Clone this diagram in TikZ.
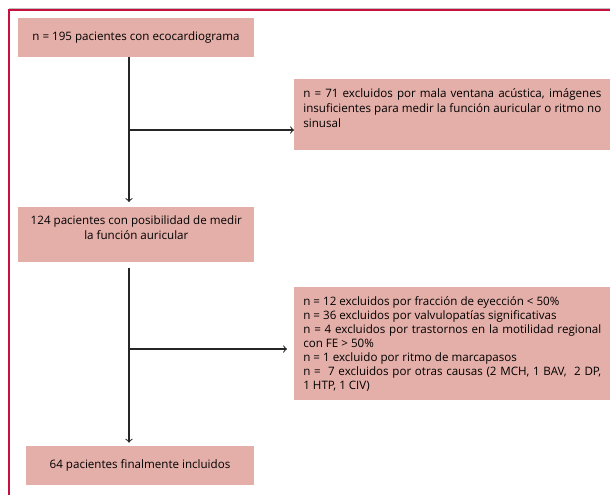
\documentclass[tikz,border=0pt]{standalone}
\usepackage{fontspec}
\setmainfont{Open Sans}
\definecolor{caja}{HTML}{E4AFA9}
\definecolor{marco}{HTML}{C8103E}
\hyphenpenalty=10000
\emergencystretch=1em

\begin{document}
\begin{tikzpicture}[x=0.02cm,y=-0.02cm,
	caja/.style={fill=caja,inner sep=0pt,font=\fontsize{6.6}{8}\selectfont},
	flecha/.style={->,line width=0.6pt,black!85}]
				\useasboundingbox(0,0)rectangle(610,495);
				\draw[black!25,line width=0.3pt](9,8.5)--(610,8.5);
				\draw[marco,line width=1.1pt](9,495)--(9,10)--(610,10);
				\node[caja,minimum width=4.72cm,minimum height=0.78cm](total)at(136,37.5){\raisebox{1.5pt}{n = 195 pacientes con ecocardiograma}};
				\node[caja,anchor=north west](excl1)at(294,79){\parbox[c][1.42cm][t]{6.32cm}{\hspace*{0.18cm}\parbox[t]{5.96cm}{\fontsize{6.6}{8.6}\selectfont\vspace*{5pt}n = 71 excluidos por mala ventana acústica, imágenes insuficientes para medir la función auricular o ritmo no sinusal}}};
				\node[caja,anchor=north west](posibles)at(18,207){\parbox[c][1.1cm][t]{4.72cm}{\centering\vspace*{5pt}124 pacientes con posibilidad de medir\\la función auricular}};
				\node[caja,anchor=north west](excl2)at(294,287){\parbox[c][2.26cm][t]{6.32cm}{\hspace*{0.18cm}\parbox[t]{5.96cm}{\vspace*{5pt}n = 12 excluidos por fracción de eyección < 50\%\\
n = 36 excluidos por valvulopatías significativas\\
n = 4 excluidos por trastornos en la motilidad regional con FE > 50\%\\
n = 1 excluido por ritmo de marcapasos\\
n =\ \ 7 excluidos por otras causas (2 MCH, 1 BAV,\ \ 2 DP, 1~HTP, 1~CIV)}}};
				\node[caja,minimum width=4.56cm,minimum height=0.78cm](incluidos)at(140,465.5){64 pacientes finalmente incluidos};
				\coordinate(eje)at(129,0);
				\coordinate(r1)at(129,130);
				\coordinate(r2)at(129,349);
				\draw[flecha,shorten >=0.1cm](total.south -| eje)--(posibles.north -| eje);
				\draw[flecha](r1)--(r1 -| excl1.west);
				\draw[flecha,shorten <=0.1cm,shorten >=0.06cm](posibles.south -| eje)--(incluidos.north -| eje);
				\draw[flecha,shorten >=0.14cm](r2)--(r2 -| excl2.west);
				\end{tikzpicture}
\end{document}
